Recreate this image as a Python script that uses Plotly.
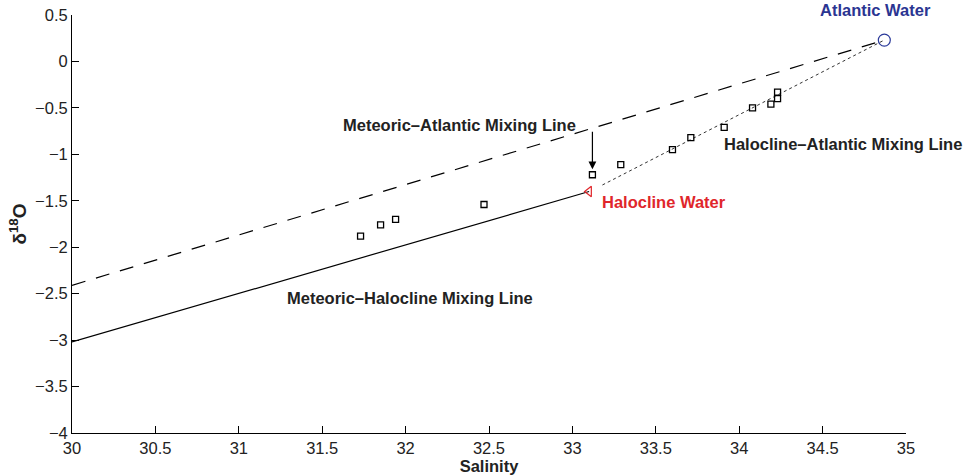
import plotly.graph_objects as go

# Water sample measurements
salinity = [31.73, 31.85, 31.94, 32.47, 33.12, 33.29, 33.60, 33.71, 33.91,
            34.08, 34.19, 34.23, 34.23]
d18o = [-1.88, -1.76, -1.70, -1.54, -1.22, -1.11, -0.95, -0.82, -0.71,
        -0.50, -0.46, -0.40, -0.33]

# End members
halocline_s, halocline_o = 33.10, -1.40
atlantic_s, atlantic_o = 34.87, 0.23
meteoric_s = 30.0
meteoric_halocline_o = -3.02   # mixing-line value at S = 30
meteoric_atlantic_o = -2.41    # mixing-line value at S = 30

# Halocline–Atlantic line drawn from just past the halocline end member
hal_atl_start_s, hal_atl_start_o = 33.18, -1.33

# Arrow from the label down to the sample it points at
arrow_s, arrow_tail_o, arrow_head_o = 33.12, -0.74, -1.16

FONT = "Liberation Sans, Arial, sans-serif"
TXT = 16.5

fig = go.Figure()

fig.add_trace(go.Scatter(
    x=[meteoric_s, atlantic_s], y=[meteoric_atlantic_o, atlantic_o],
    mode="lines", line=dict(color="black", width=1.2, dash="14px,11px"),
    showlegend=False, hoverinfo="skip"))

fig.add_trace(go.Scatter(
    x=[meteoric_s, halocline_s], y=[meteoric_halocline_o, halocline_o],
    mode="lines", line=dict(color="black", width=1.2),
    showlegend=False, hoverinfo="skip"))

fig.add_trace(go.Scatter(
    x=[hal_atl_start_s, atlantic_s], y=[hal_atl_start_o, atlantic_o],
    mode="lines", line=dict(color="#333333", width=1, dash="dot"),
    showlegend=False, hoverinfo="skip"))

fig.add_trace(go.Scatter(
    x=salinity, y=d18o, mode="markers",
    marker=dict(symbol="square-open", size=6, color="black",
                line=dict(width=1.3, color="black")),
    showlegend=False))

fig.add_trace(go.Scatter(
    x=[halocline_s], y=[halocline_o], mode="markers",
    marker=dict(symbol="triangle-left-open", size=9, color="#e0262b",
                line=dict(width=1.2, color="#e0262b")),
    showlegend=False))

fig.add_trace(go.Scatter(
    x=[atlantic_s], y=[atlantic_o], mode="markers",
    marker=dict(symbol="circle-open", size=12, color="#2b3a9a",
                line=dict(width=1.2, color="#2b3a9a")),
    showlegend=False))

# Mixing-line and water-mass labels (data coordinates, left-anchored)
labels = [
    ("Meteoric\u2013Atlantic Mixing Line", 31.61, -0.683, "#222222"),
    ("Halocline\u2013Atlantic Mixing Line", 33.897, -0.893, "#222222"),
    ("Halocline Water", 33.167, -1.512, "#e0262b"),
    ("Meteoric\u2013Halocline Mixing Line", 31.279, -2.544, "#222222"),
]
for text, x, y, color in labels:
    fig.add_annotation(x=x, y=y, text="<b>%s</b>" % text, showarrow=False,
                       xanchor="left", yanchor="middle",
                       font=dict(family=FONT, size=TXT, color=color))

# Atlantic Water label sits just above the top of the axes
fig.add_annotation(x=34.816, y=1.012, xref="x", yref="paper",
                   text="<b>Atlantic Water</b>", showarrow=False,
                   xanchor="center", yanchor="middle",
                   font=dict(family=FONT, size=TXT, color="#2b3592"))

fig.add_annotation(x=arrow_s, y=arrow_head_o, ax=arrow_s, ay=arrow_tail_o,
                   xref="x", yref="y", axref="x", ayref="y", text="",
                   showarrow=True, arrowhead=2, arrowsize=1.3, arrowwidth=1.2,
                   arrowcolor="black")

axis_common = dict(
    showgrid=False, zeroline=False, showline=True, linecolor="black",
    linewidth=1, ticks="inside", ticklen=7, tickcolor="black", mirror=False,
    automargin=False,
    tickfont=dict(family=FONT, size=TXT, color="#222222"),
)

fig.update_layout(
    width=973, height=475,
    margin=dict(l=72, r=67, t=15, b=42),
    paper_bgcolor="white", plot_bgcolor="white",
    xaxis=dict(range=[30, 35], tickvals=[30, 30.5, 31, 31.5, 32, 32.5, 33,
                                         33.5, 34, 34.5, 35],
               ticktext=["30", "30.5", "31", "31.5", "32", "32.5", "33",
                         "33.5", "34", "34.5", "35"],
               title=dict(text="<b>Salinity</b>", standoff=0,
                          font=dict(family=FONT, size=TXT, color="#222222")),
               **axis_common),
    yaxis=dict(range=[-4, 0.5], tickvals=[-4, -3.5, -3, -2.5, -2, -1.5, -1,
                                          -0.5, 0, 0.5],
               ticktext=["\u22124", "\u22123.5", "\u22123", "\u22122.5",
                         "\u22122", "\u22121.5", "\u22121", "\u22120.5",
                         "0", "0.5"],
               title=dict(text="<b>\u03b4<sup>18</sup>O</b>", standoff=3,
                          font=dict(family=FONT, size=19, color="#222222")),
               **axis_common),
)

fig.write_html("out.html")
